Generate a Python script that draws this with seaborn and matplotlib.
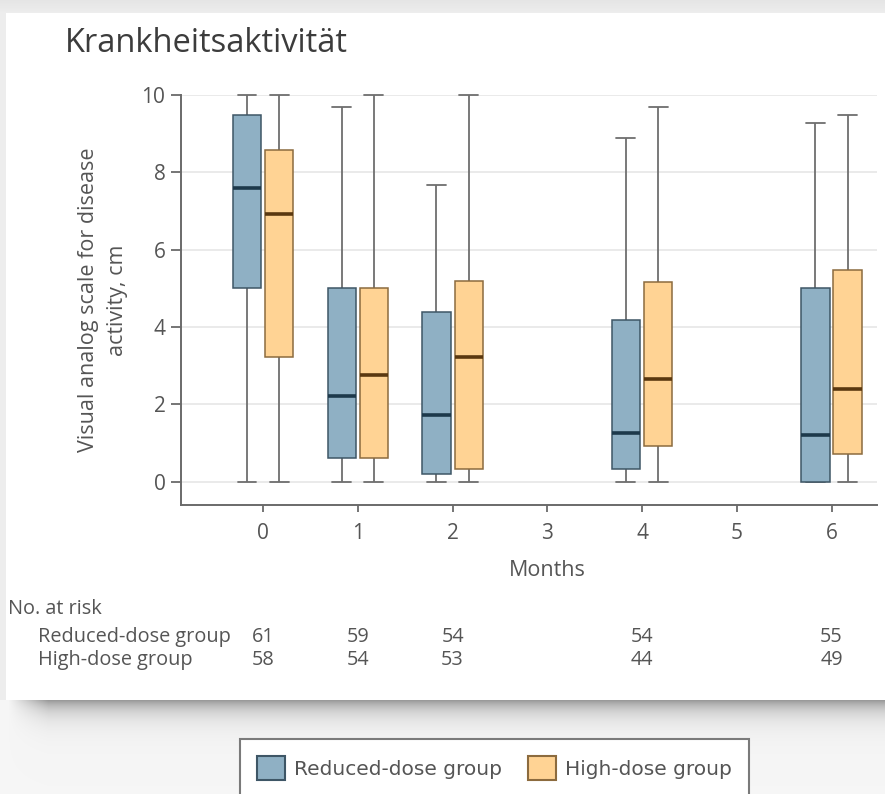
import numpy as np
import pandas as pd
import matplotlib
matplotlib.use("Agg")
import matplotlib.pyplot as plt
import seaborn as sns
from matplotlib.patches import Patch
from matplotlib import transforms

# ---- data -------------------------------------------------------------
months = [0, 1, 2, 4, 6]
groups = ["Reduced-dose group", "High-dose group"]

# five-number summaries (min, Q1, median, Q3, max) per visit
reduced_min = [0.0, 0.0, 0.0, 0.0, 0.0]
reduced_q1 = [5.0, 0.62, 0.2, 0.33, 0.0]
reduced_median = [7.6, 2.22, 1.72, 1.27, 1.22]
reduced_q3 = [9.48, 5.0, 4.38, 4.19, 5.0]
reduced_max = [10.0, 9.7, 7.67, 8.88, 9.28]

high_min = [0.0, 0.0, 0.0, 0.0, 0.0]
high_q1 = [3.22, 0.62, 0.33, 0.92, 0.73]
high_median = [6.93, 2.77, 3.22, 2.66, 2.4]
high_q3 = [8.59, 5.0, 5.2, 5.17, 5.47]
high_max = [10.0, 10.0, 10.0, 9.69, 9.48]

at_risk_reduced = [61, 59, 54, 54, 55]
at_risk_high = [58, 54, 53, 44, 49]

x_ticks = [0, 1, 2, 3, 4, 5, 6]
y_ticks = [0, 2, 4, 6, 8, 10]

# ---- long table for seaborn --------------------------------------------
rows = []
for grp, cols in [
    (groups[0], (reduced_min, reduced_q1, reduced_median, reduced_q3, reduced_max)),
    (groups[1], (high_min, high_q1, high_median, high_q3, high_max)),
]:
    for i, m in enumerate(months):
        for col in cols:
            rows.append({"Month": m, "VAS": col[i], "Group": grp})
df = pd.DataFrame(rows)

# ---- styling -----------------------------------------------------------
sns.set_style("white")
plt.rcParams["font.family"] = ["Open Sans", "DejaVu Sans"]

blue_face, blue_edge, blue_median = "#8fb0c4", "#3e5666", "#1d394b"
orange_face, orange_edge, orange_median = "#ffd394", "#8c6b3e", "#5a3810"
whisker_col = "#6e6e6e"
text_col = "#555555"
axis_col = "#6a6a6a"

W, H = 885, 794
fig = plt.figure(figsize=(W / 100, H / 100), dpi=100)

# slide background: grey page, white card with a soft drop shadow
bg = np.full((H, W), 0.965)
yy, xx = np.mgrid[0:H, 0:W]
bg[:13, :] = 0.90 + 0.03 * (yy[:13, :] / 12.0)
card = (xx >= 6) & (yy >= 13) & (yy < 700)
below = yy >= 700
fade_x = np.clip((xx - 8) / 40.0, 0, 1)
shadow = 0.36 * np.exp(-(yy - 700) / 12.0) * fade_x
bg[below] = (0.965 - shadow)[below]
bg[(xx < 6) & (yy >= 13) & (yy < 700)] = 0.93
bg[card] = 1.0
bg_ax = fig.add_axes([0, 0, 1, 1], zorder=-10)
bg_ax.imshow(np.dstack([bg, bg, bg]), extent=(0, W, H, 0), aspect="auto",
             interpolation="bilinear")
bg_ax.set_xlim(0, W)
bg_ax.set_ylim(H, 0)
bg_ax.axis("off")

ax = fig.add_axes([180.7 / W, 1 - 505 / H, (877 - 180.7) / W, (505 - 95) / H])
ax.set_facecolor("none")

sns.boxplot(
    data=df, x="Month", y="VAS", hue="Group", hue_order=groups,
    palette=[blue_face, orange_face], native_scale=True,
    whis=(0, 100), width=0.68, gap=0.12, fliersize=0,
    linewidth=1.2, linecolor=whisker_col, legend=False, ax=ax,
)

styles = [(blue_face, blue_edge, blue_median),
          (orange_face, orange_edge, orange_median)]
for cont, (face, edge, med) in zip(ax.containers, styles):
    for b in cont.boxes:
        b.set_facecolor(face)
        b.set_edgecolor(edge)
        b.set_linewidth(1.1)
        b.set_zorder(3)
    for m in cont.medians:
        m.set_color(med)
        m.set_linewidth(2.6)
        m.set_zorder(4)
    for ln in list(cont.whiskers) + list(cont.caps):
        ln.set_color(whisker_col)
        ln.set_linewidth(1.3)
        ln.set_clip_on(False)
        ln.set_zorder(2.5)
    for ln in cont.caps:
        xd = ln.get_xdata()
        c = (xd[0] + xd[1]) / 2
        ln.set_xdata([c - 0.1, c + 0.1])

ax.set_xlim(-0.87, 6.48)
ax.set_ylim(-0.6, 10.0)
ax.set_xticks(x_ticks)
ax.set_yticks(y_ticks)
ax.set_xticklabels([str(t) for t in x_ticks])
ax.set_yticklabels([str(t) for t in y_ticks])
ax.yaxis.grid(True, color="#e6e6e6", linewidth=1.2)
ax.xaxis.grid(False)
ax.set_axisbelow(True)
sns.despine(ax=ax)
for s in ("left", "bottom"):
    ax.spines[s].set_color(axis_col)
    ax.spines[s].set_linewidth(1.4)
ax.tick_params(axis="y", left=True, direction="out", length=7, width=1.3,
               color=axis_col, labelsize=15, labelcolor=text_col, pad=4)
ax.tick_params(axis="x", bottom=True, direction="out", length=5, width=1.3,
               color=axis_col, labelsize=15, labelcolor=text_col, pad=8)
ax.set_xlabel("")
ax.set_ylabel("")

# axis titles
ax.text((103 - 180.7) / (877 - 180.7), 0.5,
        "Visual analog scale for disease\nactivity, cm",
        transform=ax.transAxes, rotation=90, ha="center", va="center",
        multialignment="center", fontsize=15.5, color=text_col, linespacing=1.45)
xfig = transforms.blended_transform_factory(ax.transData, fig.transFigure)
ax.text(3, 1 - 571 / H, "Months", transform=xfig, ha="center", va="center",
        fontsize=15.5, color=text_col)

# chart title
fig.text(65 / W, 1 - 44 / H, "Krankheitsaktivität", ha="left", va="center",
         fontsize=23.5, color="#3c3c3c")

# number-at-risk table
fig.text(8 / W, 1 - 609 / H, "No. at risk", ha="left", va="center",
         fontsize=14.3, color=text_col)
fig.text(38 / W, 1 - 637 / H, groups[0], ha="left", va="center",
         fontsize=14.3, color=text_col)
fig.text(38 / W, 1 - 660 / H, groups[1], ha="left", va="center",
         fontsize=14.3, color=text_col)
for m, a, b in zip(months, at_risk_reduced, at_risk_high):
    ax.text(m, 1 - 637 / H, str(a), transform=xfig, ha="center", va="center",
            fontsize=14.3, color=text_col, clip_on=False)
    ax.text(m, 1 - 660 / H, str(b), transform=xfig, ha="center", va="center",
            fontsize=14.3, color=text_col, clip_on=False)

# legend below the card
handles = [
    Patch(facecolor=blue_face, edgecolor=blue_edge, linewidth=1.5, label=groups[0]),
    Patch(facecolor=orange_face, edgecolor=orange_edge, linewidth=1.5, label=groups[1]),
]
leg = fig.legend(
    handles=handles, loc="center", bbox_to_anchor=(494.5 / W, 1 - 768 / H),
    ncol=2, frameon=True, fancybox=False, edgecolor="#7a7a7a",
    facecolor="white", framealpha=1,
    prop={"family": "DejaVu Sans", "size": 14.5}, labelcolor=text_col,
    handlelength=1.4, handleheight=1.4, handletextpad=0.45,
    columnspacing=1.25, borderpad=0.85,
)
leg.get_frame().set_linewidth(1.5)

fig.savefig("out.png", dpi=100)
